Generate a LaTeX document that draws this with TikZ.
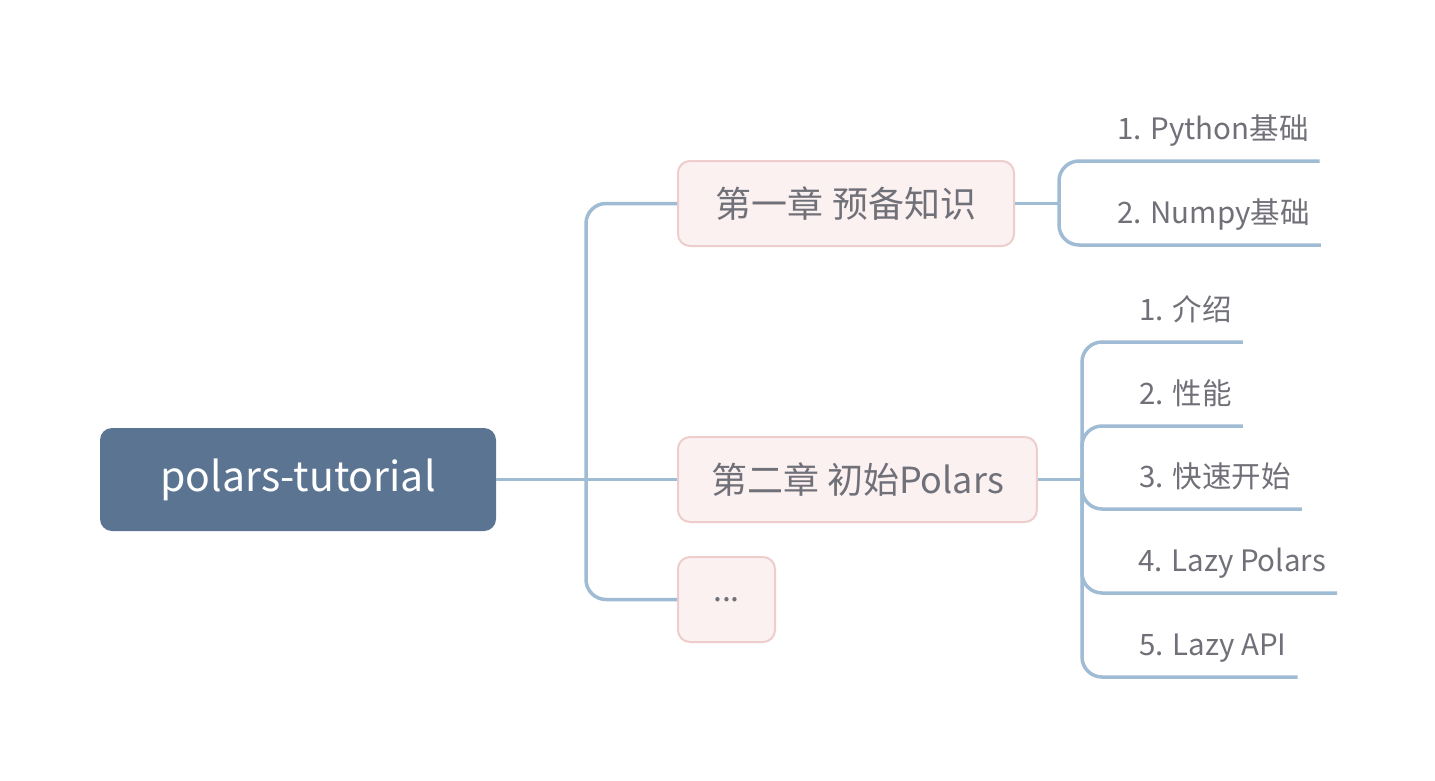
\documentclass[tikz,border=0pt]{standalone}
\usepackage{fontspec}
\setmainfont{Noto Sans CJK SC}
\definecolor{lineblue}{HTML}{A0BBD4}
\definecolor{rootfill}{HTML}{5A7491}
\definecolor{chapfill}{HTML}{FCF1F1}
\definecolor{chapdraw}{HTML}{EECDCD}
\definecolor{textgray}{HTML}{707078}
\begin{document}
\begin{tikzpicture}[x=1pt,y=-1pt,
  conn/.style={draw=lineblue, line width=3.5pt},
  rc/.style={rounded corners=20pt},
  rootbox/.style={fill=rootfill, rounded corners=12pt, minimum width=396pt, minimum height=103pt,
    inner sep=0pt, text=white, font=\fontsize{41}{50}\selectfont},
  chapbox/.style={fill=chapfill, draw=chapdraw, line width=2pt, rounded corners=12pt,
    minimum height=85pt, inner xsep=33pt, inner ysep=0pt, text=textgray,
    font=\fontsize{36}{42}\selectfont, anchor=west},
  leaf/.style={text=textgray, font=\fontsize{29.5}{36}\selectfont, inner xsep=11pt,
    inner ysep=0pt, anchor=base west}]
\path[fill=white] (0,0) rectangle (1435,780);
% main nodes
\node[rootbox] (root) at (298,479.5) {polars-tutorial};
\node[chapbox, minimum width=336pt] (c1) at (677,203.5) {第一章 预备知识};
\node[chapbox] (c2) at (677,479.5) {第二章 初始Polars};
\node[chapbox, inner xsep=0pt, minimum width=97pt, font=\fontsize{32}{40}\selectfont] (c3) at (677,599.5) {...};
% root connectors
\coordinate (j0) at (586,479.5);
\draw[conn] (root.east) -- (c2.west);
\draw[conn,rc] (j0) |- (c1.west);
\draw[conn,rc] (j0) |- (c3.west);
% chapter 1 leaves
\coordinate (t1) at (1059,203.5);
\node[leaf] (p1) at (1106,139) {1. Python基础};
\node[leaf] (p2) at (1106,223) {2. Numpy基础};
\draw[conn] (c1.east) -- (t1);
\draw[conn,rc] (t1) |- ([yshift=-22pt]p1.base east);
\draw[conn,rc] (t1) |- ([yshift=-22pt]p2.base east);
% chapter 2 leaves
\coordinate (t2) at (1082,479.5);
\node[leaf] (q1) at (1128,320) {1. 介绍};
\node[leaf] (q2) at (1128,404) {2. 性能};
\node[leaf] (q3) at (1128,487) {3. 快速开始};
\node[leaf] (q4) at (1127,571) {4. Lazy Polars};
\node[leaf] (q5) at (1128,655) {5. Lazy API};
\draw[conn] (c2.east) -- (t2);
\foreach \q in {q1,q2,q3,q4,q5}
  \draw[conn,rc] (t2) |- ([yshift=-22pt]\q.base east);
\end{tikzpicture}
\end{document}
